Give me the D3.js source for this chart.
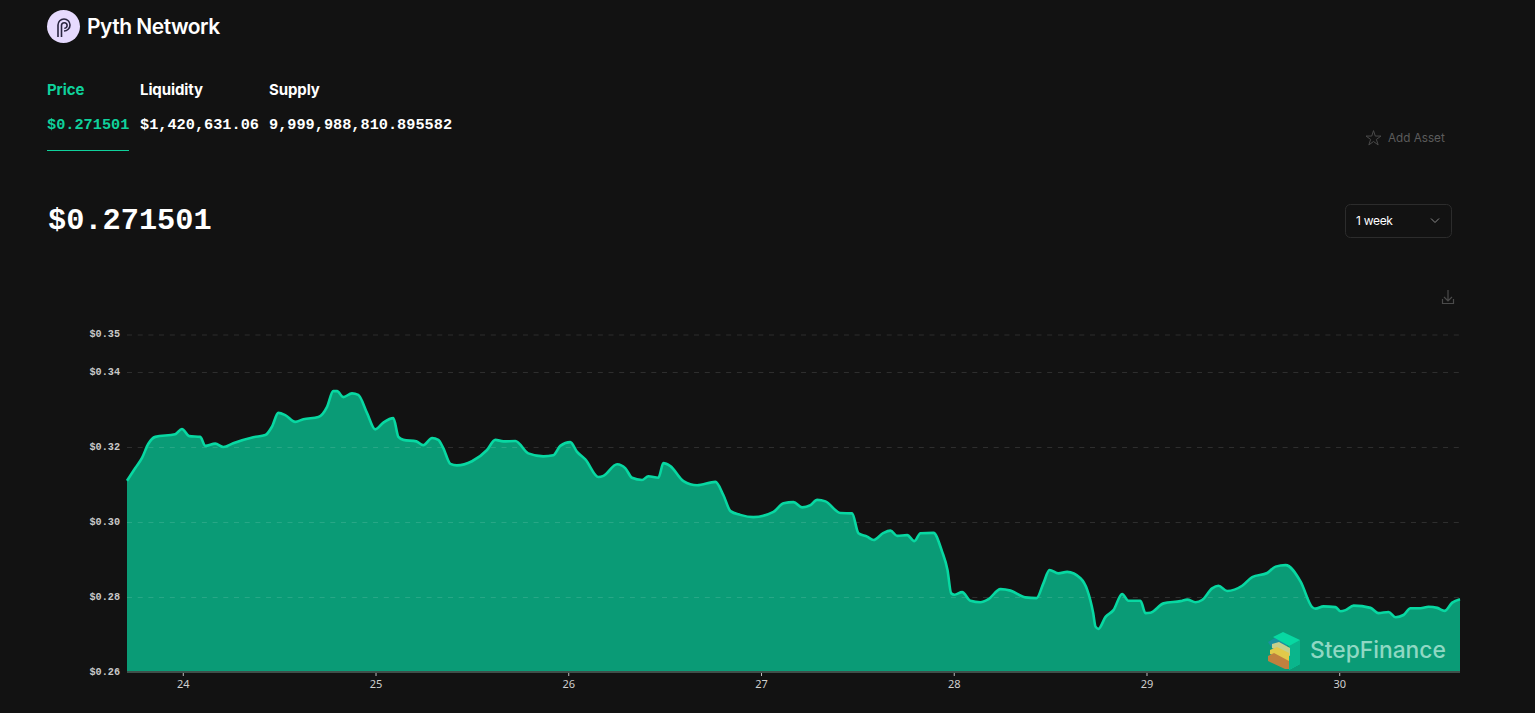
<!DOCTYPE html>
<html><head><meta charset="utf-8">
<script src="https://cdn.jsdelivr.net/npm/d3@7"></script>
<style>
html,body{margin:0;padding:0;background:#121212;overflow:hidden}
svg{display:block}
text{font-family:Inter,"Noto Sans",sans-serif}
.mono{font-family:"Liberation Mono","DejaVu Sans Mono",monospace;font-weight:700}
.tick text.ylab{font-family:"Liberation Mono","DejaVu Sans Mono",monospace;font-weight:700}
.tick text.xlab{font-family:"Noto Sans",sans-serif;font-weight:400}
</style></head><body><div id="chart"></div>
<script>
const days = [23.708,23.751,23.786,23.818,23.855,23.958,23.993,24.031,24.088,24.114,24.166,24.208,24.259,24.363,24.426,24.460,24.493,24.529,24.581,24.623,24.701,24.746,24.778,24.798,24.830,24.875,24.908,24.953,24.996,25.038,25.090,25.116,25.142,25.209,25.245,25.291,25.323,25.349,25.386,25.420,25.498,25.576,25.619,25.661,25.723,25.790,25.868,25.920,25.956,26.008,26.043,26.086,26.154,26.180,26.251,26.294,26.328,26.380,26.413,26.465,26.491,26.527,26.595,26.666,26.761,26.802,26.839,26.890,26.958,27.062,27.114,27.166,27.211,27.254,27.289,27.332,27.409,27.470,27.503,27.548,27.581,27.633,27.669,27.704,27.756,27.793,27.825,27.892,27.937,27.965,27.984,28.001,28.041,28.084,28.136,28.177,28.240,28.292,28.369,28.427,28.463,28.494,28.541,28.586,28.655,28.690,28.721,28.733,28.748,28.785,28.826,28.871,28.904,28.966,28.992,29.018,29.086,29.174,29.209,29.252,29.286,29.338,29.371,29.416,29.494,29.546,29.624,29.667,29.719,29.797,29.857,29.874,29.916,29.978,30.004,30.030,30.072,30.160,30.201,30.253,30.290,30.331,30.367,30.419,30.461,30.506,30.544,30.584,30.624];
const prices = [.3110,.3144,.3171,.3208,.3227,.3234,.3248,.3229,.3227,.3203,.3209,.3200,.3210,.3226,.3232,.3254,.3291,.3285,.3267,.3274,.3280,.3307,.3349,.3349,.3333,.3343,.3339,.3291,.3247,.3265,.3277,.3227,.3219,.3215,.3205,.3224,.3219,.3197,.3155,.3151,.3162,.3192,.3219,.3215,.3216,.3183,.3175,.3178,.3203,.3213,.3187,.3167,.3120,.3123,.3154,.3143,.3118,.3112,.3122,.3118,.3157,.3149,.3109,.3098,.3107,.3072,.3029,.3019,.3013,.3027,.3050,.3053,.3039,.3045,.3059,.3055,.3024,.3023,.2970,.2961,.2952,.2971,.2977,.2963,.2965,.2949,.2970,.2971,.2921,.2872,.2810,.2806,.2813,.2790,.2786,.2794,.2821,.2817,.2799,.2797,.2837,.2872,.2863,.2867,.2850,.2819,.2757,.2721,.2715,.2747,.2765,.2808,.2790,.2790,.2757,.2758,.2783,.2789,.2793,.2786,.2792,.2823,.2830,.2816,.2830,.2853,.2864,.2881,.2885,.2841,.2773,.2769,.2775,.2773,.2762,.2765,.2777,.2771,.2757,.2760,.2746,.2752,.2770,.2770,.2774,.2771,.2763,.2785,.2794];
const yTicks = [0.26,0.28,0.30,0.32,0.34,0.35];
const xTicks = [24,25,26,27,28,29,30];
const tabs = ["Price","Liquidity","Supply"];
const tabValues = ["$0.271501","$1,420,631.06","9,999,988,810.895582"];
const headline = "$0.271501";

const svg = d3.select("#chart").append("svg").attr("width",1535).attr("height",713);
const x = d3.scaleLinear().domain([23.708,30.624]).range([127,1460]);
const y = d3.scaleLinear().domain([0.26,0.35]).range([672,334.5]);
const pts = days.map((d,i)=>[d,prices[i]]);

// header
svg.append("circle").attr("cx",63.5).attr("cy",26.5).attr("r",16.5).attr("fill","#e6dafe");
svg.append("path").attr("d","M58 37V25a6 6 0 1 1 6 6M61.5 37V25.5a2.8 2.8 0 1 1 2.8 2.8")
  .attr("fill","none").attr("stroke","#2a2540").attr("stroke-width",1.6);
svg.append("text").attr("x",87).attr("y",34).text("Pyth Network")
  .attr("fill","#fff").attr("font-size",21).attr("font-weight",600).attr("letter-spacing",-0.5);

const tabX = [47,140,269];
svg.selectAll(".tab").data(tabs).join("text").attr("class","tab")
  .attr("x",(d,i)=>tabX[i]).attr("y",95).text(d=>d)
  .attr("fill",(d,i)=>i?"#fff":"#0fd19b").attr("font-size",15).attr("font-weight",700).attr("letter-spacing",-0.1);
svg.selectAll(".tabv").data(tabValues).join("text").attr("class","tabv mono")
  .attr("x",(d,i)=>tabX[i]).attr("y",129).text(d=>d)
  .attr("fill",(d,i)=>i?"#fff":"#0fd19b").attr("font-size",15.25);
svg.append("rect").attr("x",47).attr("y",150).attr("width",82).attr("height",1).attr("fill","#0fd19b");
svg.append("text").attr("class","mono").attr("x",48).attr("y",229).text(headline)
  .attr("fill","#fff").attr("font-size",30.3);

// add asset
svg.append("path").attr("d",d3.symbol(d3.symbolStar,70)()).attr("transform","translate(1373.5,138.5)")
  .attr("fill","none").attr("stroke","#4a4a4a").attr("stroke-width",1);
svg.append("text").attr("x",1388).attr("y",142).text("Add Asset").attr("fill","#5c5c5c").attr("font-size",11.7);

// dropdown
svg.append("rect").attr("x",1345.5).attr("y",204.5).attr("width",106).attr("height",33).attr("rx",5)
  .attr("fill","none").attr("stroke","#2c2c2c");
svg.append("text").attr("x",1356).attr("y",225).text("1 week").attr("fill","#fff").attr("font-size",12).attr("letter-spacing",-0.3);
svg.append("path").attr("d","M1431 218.5l4 4l4-4").attr("fill","none").attr("stroke","#8a8a8a").attr("stroke-width",1);

// download icon
svg.append("path").attr("d","M1448 290v11M1444 297l4 4l4-4M1442.5 299v4.5h11v-4.5")
  .attr("fill","none").attr("stroke","#4a4a4a").attr("stroke-width",1.2);

// area + line
svg.append("path").datum(pts)
  .attr("d",d3.area().x(d=>x(d[0])).y0(y(0.26)).y1(d=>y(d[1])).curve(d3.curveMonotoneX))
  .attr("fill","#0a9b76");

// grid through y axis
const yAxis = d3.axisLeft(y).tickValues(yTicks).tickFormat(d=>"$"+d.toFixed(2)).tickSize(0).tickPadding(7);
const gy = svg.append("g").attr("transform","translate(127,0)").call(yAxis);
gy.select(".domain").remove();
gy.selectAll("text").attr("class","ylab").attr("fill","#c8c8c8").attr("font-size",10.2).attr("dy","0.2em");
svg.append("g").selectAll("line").data(yTicks.filter(d=>d>0.26)).join("line")
  .attr("x1",127).attr("x2",1460).attr("y1",d=>y(d)+0.5).attr("y2",d=>y(d)+0.5)
  .attr("stroke","#ffffff").attr("stroke-opacity",0.12).attr("stroke-dasharray","5 5.7");

svg.append("path").datum(pts)
  .attr("d",d3.line().x(d=>x(d[0])).y(d=>y(d[1])).curve(d3.curveMonotoneX))
  .attr("fill","none").attr("stroke","#08d8a2").attr("stroke-width",2.6).attr("stroke-linejoin","round");

// x axis
const xAxis = d3.axisBottom(x).tickValues(xTicks).tickFormat(d3.format("d")).tickSize(4).tickPadding(4);
const gx = svg.append("g").attr("transform","translate(-0.5,672)").call(xAxis);
gx.select(".domain").remove();
gx.selectAll("line").attr("stroke","#bdbdbd");
gx.selectAll("text").attr("class","xlab").attr("fill","#cfcfcf").attr("font-size",11);
svg.append("rect").attr("x",127).attr("y",671).attr("width",1333).attr("height",2).attr("fill","#3f4f4a");

// watermark
const wm = svg.append("g");
wm.append("path").attr("d","M1268 642l7-4l12 5v12l-8 4z").attr("fill","#1b8fa0");
wm.append("path").attr("d","M1273 637l10-5l17 8v24l-11 6v-24z").attr("fill","#08d8a2");
wm.append("path").attr("d","M1289 646l11-6v24l-11 6z").attr("fill","#0ab58c");
wm.append("path").attr("d","M1272 644l7-2l11 6v8l-18-8z").attr("fill","#c5cf8c");
wm.append("path").attr("d","M1270 650l7-3l12 6v9l-19-8z").attr("fill","#e2c94a");
wm.append("path").attr("d","M1268 656l6-3l15 8v8l-4 0l-17-8z").attr("fill","#c0803e");
wm.append("text").attr("x",1310).attr("y",658).text("StepFinance").attr("fill","#8fd8c3").attr("font-size",22.8).attr("font-weight",500);
</script></body></html>
